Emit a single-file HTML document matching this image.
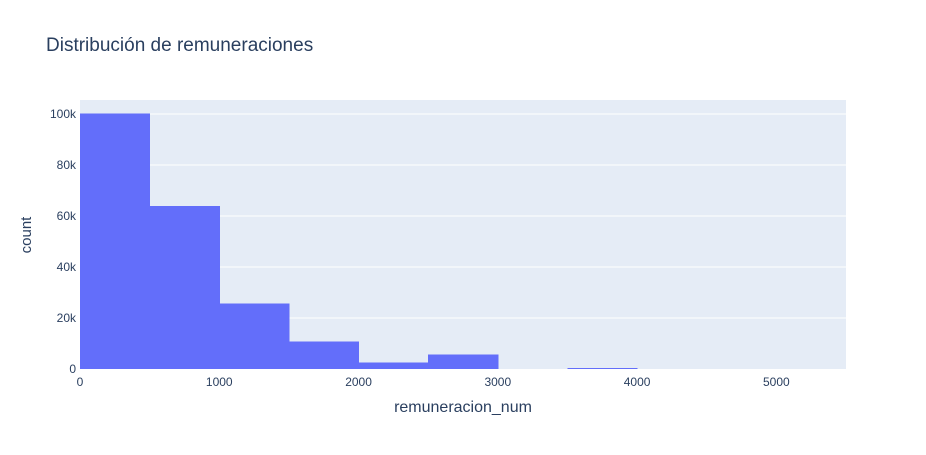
<!DOCTYPE html>
<html><head><meta charset="utf-8"><style>
body{margin:0;background:#fff;font-family:"Liberation Sans",Arial,sans-serif}
text{font-family:"Liberation Sans",Arial,sans-serif;fill:#2a3f5f}
</style></head><body>
<svg id="chart" width="926" height="450" xmlns="http://www.w3.org/2000/svg">
<text x="46" y="51" font-size="19">Distribución de remuneraciones</text>
<rect x="80" y="100" width="766" height="269" fill="#e5ecf6"/>
<g id="grid"></g><g id="bars" shape-rendering="crispEdges"></g><g id="xt"></g><g id="yt"></g>
<text x="463" y="412" font-size="16" text-anchor="middle">remuneracion_num</text>
<text transform="translate(31,235) rotate(-90)" font-size="15" text-anchor="middle">count</text>
</svg>
<script>
const binStarts=[0,500,1000,1500,2000,2500,3000,3500];
const counts=[100200,64000,25600,10800,2500,5600,0,300];
const binWidth=500;
const xTicks=[0,1000,2000,3000,4000,5000];
const xTickLabels=["0","1000","2000","3000","4000","5000"];
const yTicks=[0,20000,40000,60000,80000,100000];
const yTickLabels=["0","20k","40k","60k","80k","100k"];
const X0=80,X1=846,Y0=369,Y1=100,xMax=5500,yMax=105500;
const sx=v=>X0+v/xMax*(X1-X0), sy=v=>Y0-v/yMax*(Y0-Y1);
const NS="http://www.w3.org/2000/svg";
function mk(t,a,p){const e=document.createElementNS(NS,t);for(const k in a)e.setAttribute(k,a[k]);p.appendChild(e);return e;}
const g=document.getElementById('grid'),b=document.getElementById('bars'),xt=document.getElementById('xt'),yt=document.getElementById('yt');
yTicks.forEach((v,i)=>{
 if(v>0){const l=mk('line',{x1:X0,x2:X1,y1:sy(v),y2:sy(v),stroke:'#fff','stroke-width':1},g);
 
 }
 const t=mk('text',{x:X0-4,y:sy(v)+4,'font-size':12,'text-anchor':'end'},yt);t.textContent=yTickLabels[i];
 
 
});
binStarts.forEach((s,i)=>{
 const r=mk('rect',{x:sx(s),y:sy(counts[i]),width:sx(s+binWidth)-sx(s)+0.5,height:Y0-sy(counts[i]),fill:'#636efa'},b);
 
 
});
xTicks.forEach((v,i)=>{
 const t=mk('text',{x:sx(v),y:Y0+17,'font-size':12,'text-anchor':'middle'},xt);t.textContent=xTickLabels[i];
 
 
});
</script>
</body></html>
